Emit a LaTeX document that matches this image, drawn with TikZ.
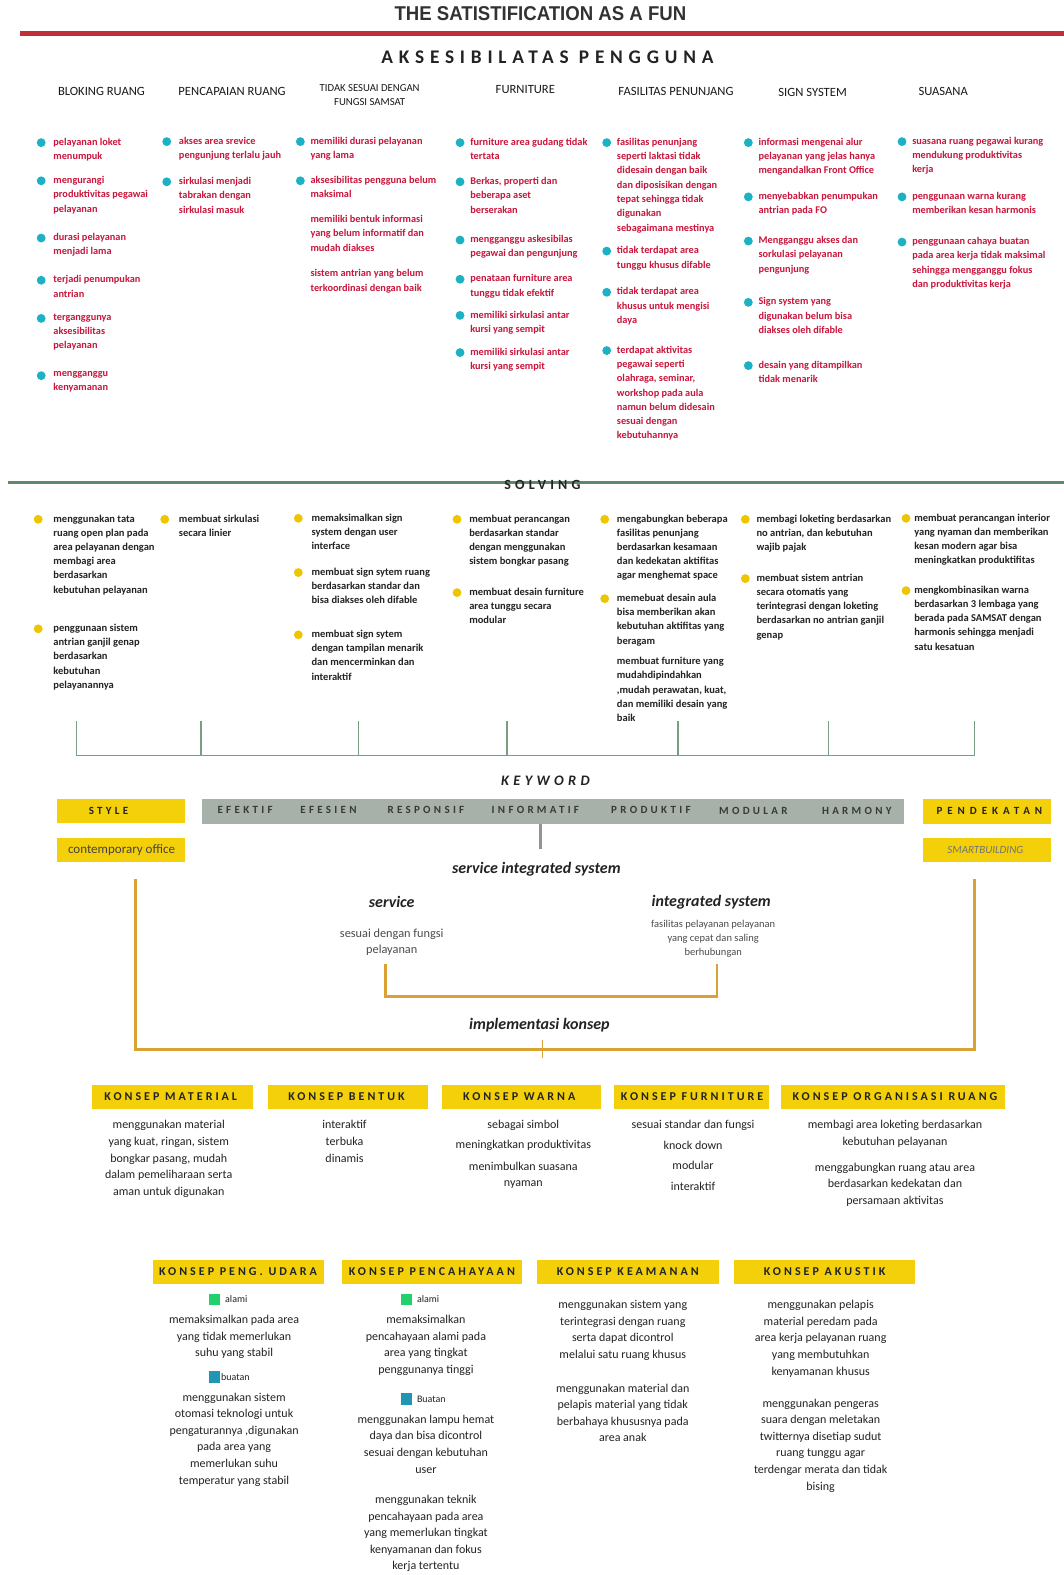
\documentclass[tikz,border=0pt]{standalone}
\usepackage{fontspec}
\setmainfont{Carlito}
\newfontfamily\wfont[LetterSpace=30]{Carlito}
\newfontfamily\lfont[LetterSpace=25]{Carlito}
\newfontfamily\pfont[LetterSpace=45]{Carlito}
\newfontfamily\titlefont{Liberation Sans}
\definecolor{redc}{RGB}{200,22,60}
\definecolor{tealc}{RGB}{28,178,196}
\definecolor{yelb}{RGB}{238,198,0}
\definecolor{yelbox}{RGB}{243,208,10}
\definecolor{grayb}{RGB}{168,176,170}
\definecolor{greenl}{RGB}{94,138,106}
\definecolor{greenb}{RGB}{122,158,128}
\definecolor{redbar}{RGB}{192,48,58}
\definecolor{orl}{RGB}{218,162,50}
\definecolor{darkc}{RGB}{35,35,35}
\definecolor{sqgreen}{RGB}{34,208,108}
\definecolor{sqteal}{RGB}{30,150,180}
\definecolor{titc}{RGB}{50,50,50}
\newcommand{\mkitem}[7]{\fill[#3] (#4,#6) circle (4.4);\node[#2] (#1) at (#5,#6-4.8) {#7};}
\tikzset{
 redt/.style={font=\fontsize{10.3}{14.3}\selectfont\bfseries, text=redc, align=left, inner sep=0, anchor=north west},
 solt/.style={font=\fontsize{10.5}{14.2}\selectfont\bfseries, text=darkc, align=left, inner sep=0, anchor=north west},
 kont/.style={font=\fontsize{12}{16.6}\selectfont, text=darkc, align=center, inner sep=0, anchor=north},
 hdr/.style={font=\fontsize{12.6}{14}\selectfont, text=black!90, inner sep=0, align=center},
 ylab/.style={font=\lfont\bfseries\fontsize{12}{13}\selectfont, text=darkc, inner sep=0},
 kwd/.style={font=\wfont\bfseries\fontsize{11}{12}\selectfont, text=darkc!90, inner sep=0},
 sqlab/.style={font=\fontsize{10}{12}\selectfont, text=darkc, inner sep=0, anchor=west},
 ital/.style={font=\bfseries\itshape\fontsize{16}{17}\selectfont, text=darkc, inner sep=0},
 grnbr/.style={draw=greenb, line width=1.6},
 orbr/.style={draw=orl, line width=2.6},
}
\begin{document}
\begin{tikzpicture}[x=1.0047pt,y=-1.0047pt]
\useasboundingbox (0,0) rectangle (1059,1568);
\fill[white] (0,0) rectangle (1059,1568);
% title
\node[font=\titlefont\bfseries\fontsize{20}{21}\selectfont, text=titc, inner sep=0] (title) at (538,14) {\scalebox{0.93}[1]{THE SATISTIFICATION AS A FUN}};
\fill[redbar] (20,31) rectangle (1059,35.5);
\node[font=\wfont\bfseries\fontsize{19.3}{21}\selectfont, text=darkc, inner sep=0] (aks) at (545,57) {AKSESIBILATAS PENGGUNA};
% headers
\node[hdr] (h1) at (101,91) {BLOKING RUANG};
\node[hdr] (h2) at (231,91) {PENCAPAIAN RUANG};
\node[hdr, font=\fontsize{10.7}{14}\selectfont] (h3) at (368,95) {TIDAK SESUAI DENGAN\\FUNGSI SAMSAT};
\node[hdr] (h4) at (523,89) {FURNITURE};
\node[hdr] (h5) at (673,91) {FASILITAS PENUNJANG};
\node[hdr] (h6) at (809,92) {SIGN SYSTEM};
\node[hdr] (h7) at (939,91) {SUASANA};
% column 1
\mkitem{a1}{redt}{tealc}{41}{53}{142}{pelayanan loket\\menumpuk}
\mkitem{a2}{redt}{tealc}{41}{53}{180}{mengurangi\\produktivitas pegawai\\pelayanan}
\mkitem{a3}{redt}{tealc}{41}{53}{237}{durasi pelayanan\\menjadi lama}
\mkitem{a4}{redt}{tealc}{41}{53}{279}{terjadi penumpukan\\antrian}
\mkitem{a5}{redt}{tealc}{41}{53}{317}{terganggunya\\aksesibilitas\\pelayanan}
\mkitem{a6}{redt}{tealc}{41}{53}{374}{mengganggu\\kenyamanan}
% column 2
\mkitem{b1}{redt}{tealc}{166}{178}{141}{akses area srevice\\pengunjung terlalu jauh}
\mkitem{b2}{redt}{tealc}{166}{178}{181}{sirkulasi menjadi\\tabrakan dengan\\sirkulasi masuk}
% column 3
\mkitem{c1}{redt}{tealc}{299}{309}{141}{memiliki durasi pelayanan\\yang lama}
\mkitem{c2}{redt}{tealc}{299}{309}{180}{aksesibilitas pengguna belum\\maksimal}
\node[redt] (c3) at (309,219-4.8) {memiliki bentuk informasi\\yang belum informatif dan\\mudah diakses};
\node[redt] (c4) at (309,273-4.8) {sistem antrian yang belum\\terkoordinasi dengan baik};
% column 4
\mkitem{d1}{redt}{tealc}{458}{468}{142}{furniture area gudang tidak\\tertata}
\mkitem{d2}{redt}{tealc}{458}{468}{181}{Berkas, properti dan\\beberapa aset\\berserakan}
\mkitem{d3}{redt}{tealc}{458}{468}{239}{mengganggu askesibilas\\pegawai dan pengunjung}
\mkitem{d4}{redt}{tealc}{458}{468}{278}{penataan furniture area\\tunggu tidak efektif}
\mkitem{d5}{redt}{tealc}{458}{468}{314}{memiliki sirkulasi antar\\kursi yang sempit}
\mkitem{d6}{redt}{tealc}{458}{468}{351}{memiliki sirkulasi antar\\kursi yang sempit}
% column 5
\mkitem{e1}{redt}{tealc}{604}{614}{142}{fasilitas penunjang\\seperti laktasi tidak\\didesain dengan baik\\dan diposisikan dengan\\tepat sehingga tidak\\digunakan\\sebagaimana mestinya}
\mkitem{e2}{redt}{tealc}{604}{614}{250}{tidak terdapat area\\tunggu khusus difable}
\mkitem{e3}{redt}{tealc}{604}{614}{291}{tidak terdapat area\\khusus untuk mengisi\\daya}
\mkitem{e4}{redt}{tealc}{604}{614}{349}{terdapat aktivitas\\pegawai seperti\\olahraga, seminar,\\workshop pada aula\\namun belum didesain\\sesuai dengan\\kebutuhannya}
% column 6
\mkitem{f1}{redt}{tealc}{745}{755}{142}{informasi mengenai alur\\pelayanan yang jelas hanya\\mengandalkan Front Office}
\mkitem{f2}{redt}{tealc}{745}{755}{196}{menyebabkan penumpukan\\antrian pada FO}
\mkitem{f3}{redt}{tealc}{745}{755}{240}{Mengganggu akses dan\\sorkulasi pelayanan\\pengunjung}
\mkitem{f4}{redt}{tealc}{745}{755}{301}{Sign system yang\\digunakan belum bisa\\diakses oleh difable}
\mkitem{f5}{redt}{tealc}{745}{755}{364}{desain yang ditampilkan\\tidak menarik}
% column 7
\mkitem{g1}{redt}{tealc}{898}{908}{141}{suasana ruang pegawai kurang\\mendukung produktivitas\\kerja}
\mkitem{g2}{redt}{tealc}{898}{908}{196}{penggunaan warna kurang\\memberikan kesan harmonis}
\mkitem{g3}{redt}{tealc}{898}{908}{241}{penggunaan cahaya buatan\\pada area kerja tidak maksimal\\sehingga mengganggu fokus\\dan produktivitas kerja}
% solving
\draw[greenl, line width=3] (8,480) -- (1059,480);
\node[font=\wfont\bfseries\fontsize{14}{15}\selectfont, text=darkc, inner sep=0] (solving) at (540,483) {SOLVING};
\mkitem{s1}{solt}{yelb}{38}{53}{517}{menggunakan tata\\ruang open plan pada\\area pelayanan dengan\\membagi area\\berdasarkan\\kebutuhan pelayanan}
\mkitem{s2}{solt}{yelb}{38}{53}{626}{penggunaan sistem\\antrian ganjil genap\\berdasarkan\\kebutuhan\\pelayanannya}
\mkitem{t1}{solt}{yelb}{164}{178}{517}{membuat sirkulasi\\secara linier}
\mkitem{u1}{solt}{yelb}{297}{310}{516}{memaksimalkan sign\\system dengan user\\interface}
\mkitem{u2}{solt}{yelb}{297}{310}{570}{membuat sign sytem ruang\\berdasarkan standar dan\\bisa diakses oleh difable}
\mkitem{u3}{solt}{yelb}{297}{310}{632}{membuat sign sytem\\dengan tampilan menarik\\dan mencerminkan dan\\interaktif}
\mkitem{v1}{solt}{yelb}{455}{467}{517}{membuat perancangan\\berdasarkan standar\\dengan menggunakan\\sistem bongkar pasang}
\mkitem{v2}{solt}{yelb}{455}{467}{590}{membuat desain furniture\\area tunggu secara\\modular}
\mkitem{w1}{solt}{yelb}{602}{614}{517}{mengabungkan beberapa\\fasilitas penunjang\\berdasarkan kesamaan\\dan kedekatan aktifitas\\agar menghemat space}
\mkitem{w2}{solt}{yelb}{602}{614}{596}{memebuat desain aula\\bisa memberikan akan\\kebutuhan aktifitas yang\\beragam}
\node[solt] (w3) at (614,659-4.8) {membuat furniture yang\\mudahdipindahkan\\,mudah perawatan, kuat,\\dan memiliki desain yang\\baik};
\mkitem{x1}{solt}{yelb}{742}{753}{517}{membagi loketing berdasarkan\\no antrian, dan kebutuhan\\wajib pajak}
\mkitem{x2}{solt}{yelb}{742}{753}{576}{membuat sistem antrian\\secara otomatis yang\\terintegrasi dengan loketing\\berdasarkan no antrian ganjil\\genap}
\mkitem{y1}{solt}{yelb}{902}{910}{516}{membuat perancangan interior\\yang nyaman dan memberikan\\kesan modern agar bisa\\meningkatkan produktifitas}
\mkitem{y2}{solt}{yelb}{902}{910}{588}{mengkombinasikan warna\\berdasarkan 3 lembaga yang\\berada pada SAMSAT dengan\\harmonis sehingga menjadi\\satu kesatuan}
% green bracket
\draw[grnbr] (76,718) -- (76,752) -- (970,752) -- (970,718);
\foreach \xx in {200,357,505,675,825} {\draw[grnbr] (\xx,718) -- (\xx,752);}
% keyword
\node[font=\wfont\bfseries\itshape\fontsize{14.5}{15}\selectfont, text=darkc, inner sep=0] (kwtitle) at (543,777) {KEYWORD};
\fill[yelbox] (57,795) rectangle (184,819);
\node[ylab, font=\wfont\bfseries\fontsize{11}{12}\selectfont] (style) at (108,807) {STYLE};
\fill[grayb] (201,795) rectangle (900,820);
\node[kwd] (k1) at (244,806) {EFEKTIF};
\node[kwd] (k2) at (327,806) {EFESIEN};
\node[kwd] (k3) at (424,806) {RESPONSIF};
\node[kwd] (k4) at (533,806) {INFORMATIF};
\node[kwd] (k5) at (648,806) {PRODUKTIF};
\node[kwd] (k6) at (750,807) {MODULAR};
\node[kwd] (k7) at (853,807) {HARMONY};
\fill[yelbox] (919,795) rectangle (1046,820);
\node[ylab, font=\pfont\bfseries\fontsize{11}{12}\selectfont] (pend) at (985,807) {PENDEKATAN};
\fill[yelbox] (57,834) rectangle (184,858);
\node[font=\fontsize{13}{14}\selectfont, text=darkc!85, inner sep=0] (cont) at (121,846) {contemporary office};
\fill[yelbox] (919,834) rectangle (1046,858);
\node[font=\itshape\fontsize{11}{12}\selectfont, text=black!55, inner sep=0] (smart) at (981,846) {SMARTBUILDING};
\coordinate (kwb) at (538,820);
\draw[grayb!85!black, line width=2.5] (kwb) -- ++(0,25);
\node[ital] (sis) at (534,865) {service integrated system};
\node[ital] (serv) at (390,898) {service};
\node[ital] (integ) at (708,898) {integrated\ system};
\node[kont, font=\fontsize{12.3}{16}\selectfont, text=black!70] (servt) at (390,924.5) {sesuai dengan fungsi\\pelayanan};
\node[kont, font=\fontsize{10.5}{14}\selectfont, text=black!70] (integt) at (710,916) {fasilitas pelayanan pelayanan\\yang cepat dan saling\\berhubungan};
\draw[orbr] (384,960) -- (384,992) -- (714,992) -- (714,960);
\node[ital] (impl) at (537,1021) {implementasi konsep};
\draw[orbr, line width=3] (135,875) -- (135,1045) -- (970,1045) -- (970,875);
\draw[orbr, line width=1.4] (540,1035) -- (540,1053);
% konsep row 1
\fill[yelbox] (92,1080) rectangle (252,1104);
\node[ylab] (km) at (170,1092) {KONSEP MATERIAL};
\fill[yelbox] (267,1080) rectangle (426,1104);
\node[ylab] (kb) at (345,1092) {KONSEP BENTUK};
\fill[yelbox] (440,1080) rectangle (598,1104);
\node[ylab] (kwn) at (517,1092) {KONSEP WARNA};
\fill[yelbox] (611,1080) rectangle (766,1104);
\node[ylab] (kf) at (689,1092) {KONSEP FURNITURE};
\fill[yelbox] (778,1080) rectangle (1001,1104);
\node[ylab] (ko) at (891,1092) {KONSEP ORGANISASI RUANG};
\node[kont] (kmt) at (168,1115.4) {menggunakan material\\yang kuat, ringan, sistem\\bongkar pasang, mudah\\dalam pemeliharaan serta\\aman untuk digunakan};
\node[kont] (kbt) at (343,1115.4) {interaktif\\terbuka\\dinamis};
\node[kont] (kwt1) at (521,1115.4) {sebagai simbol};
\node[kont] (kwt2) at (521,1134.4) {meningkatkan produktivitas};
\node[kont] (kwt3) at (521,1156.4) {menimbulkan suasana\\nyaman};
\node[kont] (kft1) at (690,1115.4) {sesuai standar dan fungsi};
\node[kont] (kft2) at (690,1135.4) {knock down};
\node[kont] (kft3) at (690,1155.4) {modular};
\node[kont] (kft4) at (690,1176.4) {interaktif};
\node[kont] (kot1) at (891,1115.4) {membagi area loketing berdasarkan\\kebutuhan pelayanan};
\node[kont] (kot2) at (891,1157.4) {menggabungkan ruang atau area\\berdasarkan kedekatan dan\\persamaan aktivitas};
% konsep row 2
\fill[yelbox] (152,1254) rectangle (323,1278);
\node[ylab] (ku) at (237,1266) {KONSEP PENG. UDARA};
\fill[yelbox] (340,1254) rectangle (520,1278);
\node[ylab] (kp) at (430,1266) {KONSEP PENCAHAYAAN};
\fill[yelbox] (535,1254) rectangle (716,1278);
\node[ylab] (kk) at (625,1266) {KONSEP KEAMANAN};
\fill[yelbox] (731,1254) rectangle (911,1278);
\node[ylab] (ka) at (821,1266) {KONSEP AKUSTIK};
\fill[sqgreen] (208,1288) rectangle (219,1299);
\node[sqlab] (ua) at (224,1293) {alami};
\node[kont] (ut1) at (233,1309.4) {memaksimalkan pada area\\yang tidak memerlukan\\suhu yang stabil};
\fill[sqteal] (208,1365) rectangle (219,1377);
\node[sqlab] (ub) at (220,1371) {buatan};
\node[kont] (ut2) at (233,1386.4) {menggunakan sistem\\otomasi teknologi untuk\\pengaturannya ,digunakan\\pada area yang\\memerlukan suhu\\temperatur yang stabil};
\fill[sqgreen] (399,1288) rectangle (410,1299);
\node[sqlab] (pa) at (415,1293) {alami};
\node[kont] (pt1) at (424,1309.4) {memaksimalkan\\pencahayaan alami pada\\area yang tingkat\\penggunanya tinggi};
\fill[sqteal] (399,1387) rectangle (410,1399);
\node[sqlab] (pb) at (415,1393) {Buatan};
\node[kont] (pt2) at (424,1408.4) {menggunakan lampu hemat\\daya dan bisa dicontrol\\sesuai dengan kebutuhan\\user};
\node[kont] (pt3) at (424,1488.4) {menggunakan teknik\\pencahayaan pada area\\yang memerlukan tingkat\\kenyamanan dan fokus\\kerja tertentu};
\node[kont] (kt1) at (620,1294.4) {menggunakan sistem yang\\terintegrasi dengan ruang\\serta dapat dicontrol\\melalui satu ruang khusus};
\node[kont] (kt2) at (620,1377.4) {menggunakan material dan\\pelapis material yang tidak\\berbahaya khususnya pada\\area anak};
\node[kont] (at1) at (817,1294.4) {menggunakan pelapis\\material peredam pada\\area kerja pelayanan ruang\\yang membutuhkan\\kenyamanan khusus};
\node[kont] (at2) at (817,1392.4) {menggunakan pengeras\\suara dengan meletakan\\twitternya disetiap sudut\\ruang tunggu agar\\terdengar merata dan tidak\\bising};
\end{tikzpicture}
\end{document}
